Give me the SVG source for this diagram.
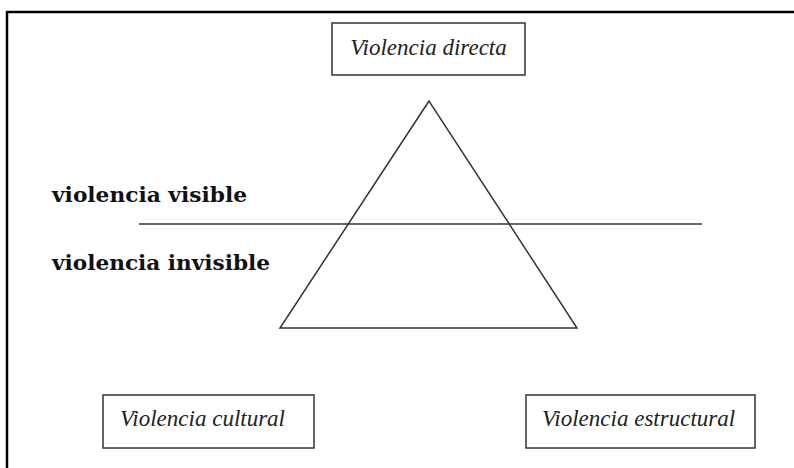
<svg xmlns="http://www.w3.org/2000/svg" width="794" height="468" viewBox="0 0 794 468">
<style>
.box{fill:#fff;stroke:#333;stroke-width:1.5}
.it{font-family:"Liberation Serif","Times New Roman",serif;font-style:italic;font-size:23px;fill:#222}
.bd{font-family:"DejaVu Serif","Liberation Serif",serif;font-weight:bold;font-size:20px;fill:#111}
.ln{fill:none;stroke:#333;stroke-width:1.5}
</style>
<rect width="794" height="468" fill="#fff"/>
<rect x="7" y="12" width="800" height="480" fill="none" stroke="#000" stroke-width="2.5"/>
<g id="directa">
<rect class="box" x="332" y="23" width="193" height="52"/>
<text class="it" x="428.5" y="55" text-anchor="middle">Violencia directa</text>
</g>
<g id="cultural">
<rect class="box" x="103" y="395" width="211" height="53"/>
<text class="it" x="120" y="426">Violencia cultural</text>
</g>
<g id="estructural">
<rect class="box" x="526" y="395" width="229" height="53"/>
<text class="it" x="542" y="426">Violencia estructural</text>
</g>
<g id="labels">
<text class="bd" x="52" y="202" textLength="195" lengthAdjust="spacingAndGlyphs">violencia visible</text>
<text class="bd" x="52" y="270" textLength="218" lengthAdjust="spacingAndGlyphs">violencia invisible</text>
</g>
<g id="connectors">
<polygon class="ln" points="429,101 280,328 577,328" stroke-linejoin="miter"/>
<line class="ln" x1="139" y1="224" x2="702" y2="224"/>
</g>
</svg>
